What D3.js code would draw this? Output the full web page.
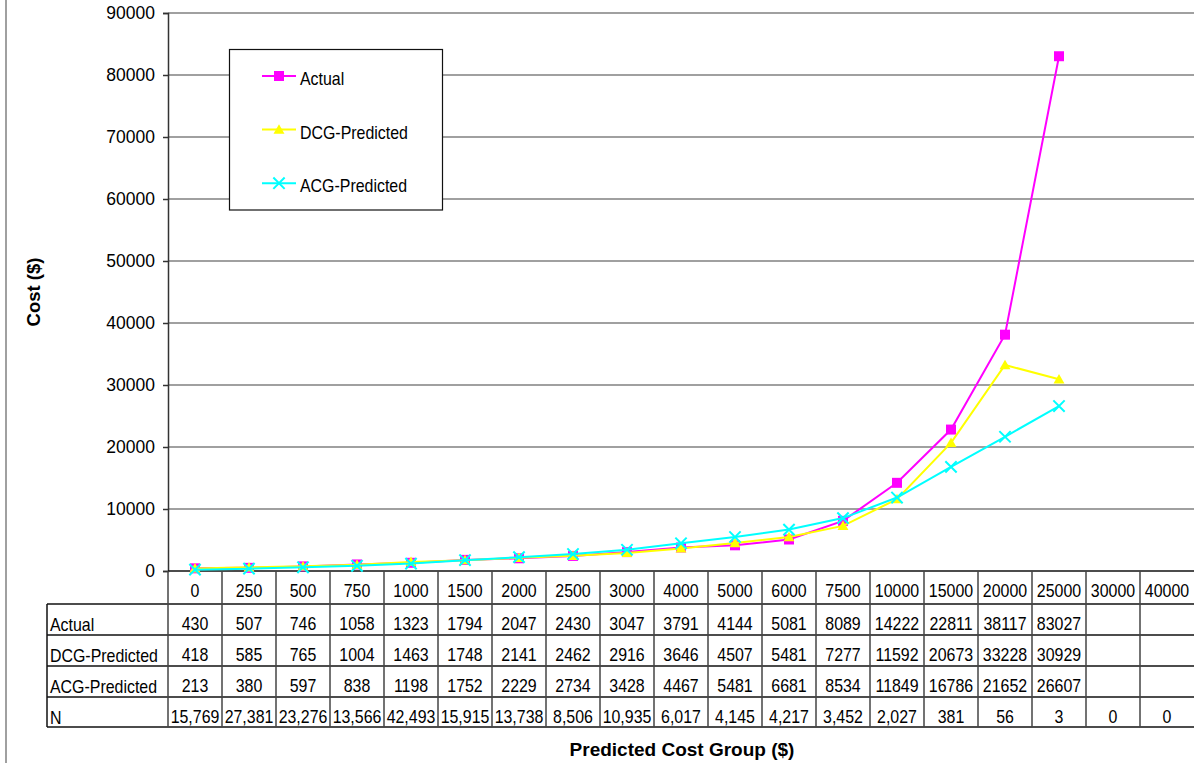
<!DOCTYPE html>
<html>
<head>
<meta charset="utf-8">
<script src="https://cdn.jsdelivr.net/npm/d3@7"></script>
<style>
  html, body { margin: 0; padding: 0; background: #fff; }
  svg { display: block; font-family: "Liberation Sans", Arial, sans-serif; }
</style>
</head>
<body>
<svg id="chart" width="1194" height="763"></svg>
<script>
// Cost by predicted cost group
const categories = ["0","250","500","750","1000","1500","2000","2500","3000","4000","5000","6000","7500","10000","15000","20000","25000","30000","40000"];
const actual = [430,507,746,1058,1323,1794,2047,2430,3047,3791,4144,5081,8089,14222,22811,38117,83027,null,null];
const dcgPredicted = [418,585,765,1004,1463,1748,2141,2462,2916,3646,4507,5481,7277,11592,20673,33228,30929,null,null];
const acgPredicted = [213,380,597,838,1198,1752,2229,2734,3428,4467,5481,6681,8534,11849,16786,21652,26607,null,null];
const counts = [15769,27381,23276,13566,42493,15915,13738,8506,10935,6017,4145,4217,3452,2027,381,56,3,0,0];
const yTicks = [0,10000,20000,30000,40000,50000,60000,70000,80000,90000];

const series = [
  { name: "Actual", values: actual, color: "#ff00ff", symbol: "square" },
  { name: "DCG-Predicted", values: dcgPredicted, color: "#ffff00", symbol: "triangle" },
  { name: "ACG-Predicted", values: acgPredicted, color: "#00ffff", symbol: "cross" }
];

const svg = d3.select("#chart");
const plot = { left: 168, right: 1194, top: 13, bottom: 571 };

const x = d3.scaleBand().domain(categories).range([plot.left, plot.right]).padding(0);
const y = d3.scaleLinear().domain([0, 90000]).range([plot.bottom, plot.top]);
const cx = c => x(c) + x.bandwidth() / 2;

// slightly condensed label text, anchored at (px, py)
const TEXT_SIZE = 17.5;
const SQUEEZE = 0.91;
function label(g, px, py, str, anchor) {
  return g.append("text")
    .attr("transform", `translate(${px},${py}) scale(${SQUEEZE},1)`)
    .attr("text-anchor", anchor || "middle")
    .attr("font-size", TEXT_SIZE)
    .attr("fill", "#000")
    .text(str);
}

// outer frame edge on the left
svg.append("line").attr("x1", 6).attr("x2", 6).attr("y1", 0).attr("y2", 763)
  .attr("stroke", "#808080").attr("stroke-width", 1.5);

// horizontal gridlines
svg.append("g").selectAll("line").data(yTicks.filter(d => d > 0)).join("line")
  .attr("x1", plot.left).attr("x2", plot.right)
  .attr("y1", d => y(d)).attr("y2", d => y(d))
  .attr("stroke", "#808080").attr("stroke-width", 1.6);

// y axis
const yAxis = svg.append("g").attr("transform", `translate(${plot.left},0)`)
  .call(d3.axisLeft(y).tickValues(yTicks).tickSize(5).tickPadding(8).tickFormat(d3.format("d")));
yAxis.select(".domain").attr("stroke", "#333").attr("stroke-width", 1.5);
yAxis.selectAll(".tick line").attr("stroke", "#333").attr("stroke-width", 1.5);
yAxis.selectAll(".tick text").attr("font-size", 17.5).attr("fill", "#000")
  .attr("font-family", "Liberation Sans, Arial, sans-serif");

// y axis title
svg.append("text").attr("transform", "translate(40,292) rotate(-90)")
  .attr("text-anchor", "middle").attr("font-weight", "bold").attr("font-size", 18.5)
  .text("Cost ($)");

// data table under the plot
const rowTop = [571, 604, 635, 666, 697, 727];
const rowLabels = ["Actual", "DCG-Predicted", "ACG-Predicted", "N"];
const tableLeft = 47;
const table = svg.append("g");

// horizontal rules
table.selectAll("line.h").data(rowTop).join("line").attr("class", "h")
  .attr("x1", (d, i) => i === 0 ? plot.left : tableLeft)
  .attr("x2", plot.right)
  .attr("y1", d => d).attr("y2", d => d)
  .attr("stroke", "#111").attr("stroke-width", 1.5);

// vertical rules between categories
table.selectAll("line.v").data(categories).join("line").attr("class", "v")
  .attr("x1", d => x(d)).attr("x2", d => x(d))
  .attr("y1", rowTop[0]).attr("y2", rowTop[5])
  .attr("stroke", "#444").attr("stroke-width", 1.5);
table.append("line").attr("x1", tableLeft).attr("x2", tableLeft)
  .attr("y1", rowTop[1]).attr("y2", rowTop[5])
  .attr("stroke", "#111").attr("stroke-width", 1.5);

// category labels
categories.forEach(c => label(table, cx(c), 597, c));

// row labels
rowLabels.forEach((d, i) => label(table, 50, rowTop[i + 1] + 27, d, "start"));

// row values
const rowValues = [actual, dcgPredicted, acgPredicted, counts];
rowValues.forEach((vals, r) => {
  categories.forEach((c, i) => {
    if (vals[i] == null) return;
    const str = r === 3 ? d3.format(",")(vals[i]) : String(vals[i]);
    label(table, cx(c), rowTop[r + 1] + 25.5, str);
  });
});

// series lines and markers
const line = d3.line().defined(d => d.v != null).x(d => cx(d.c)).y(d => y(d.v));
const symbolFor = { square: d3.symbolSquare, triangle: d3.symbolTriangle, cross: d3.symbolX };

function drawMarker(g, s, px, py) {
  if (s.symbol === "cross") {
    g.append("path").attr("transform", `translate(${px},${py})`)
      .attr("d", d3.symbol(symbolFor.cross, 85)())
      .attr("fill", "none").attr("stroke", s.color).attr("stroke-width", 2);
  } else if (s.symbol === "square") {
    g.append("path").attr("transform", `translate(${px},${py})`)
      .attr("d", d3.symbol(symbolFor.square, 100)()).attr("fill", s.color);
  } else {
    g.append("path").attr("transform", `translate(${px},${py + 1})`)
      .attr("d", d3.symbol(symbolFor.triangle, 52)()).attr("fill", s.color);
  }
}

series.forEach(s => {
  const pts = categories.map((c, i) => ({ c, v: s.values[i] }));
  const g = svg.append("g");
  g.append("path").datum(pts).attr("d", line)
    .attr("fill", "none").attr("stroke", s.color).attr("stroke-width", 2);
  pts.filter(p => p.v != null).forEach(p => drawMarker(g, s, cx(p.c), y(p.v)));
});

// legend
const legend = svg.append("g");
legend.append("rect").attr("x", 229.5).attr("y", 49.5).attr("width", 213).attr("height", 160.5)
  .attr("fill", "#fff").attr("stroke", "#111").attr("stroke-width", 1.2);
series.forEach((s, i) => {
  const ly = 76 + i * 53.6;
  legend.append("line").attr("x1", 262).attr("x2", 296).attr("y1", ly).attr("y2", ly)
    .attr("stroke", s.color).attr("stroke-width", 2);
  drawMarker(legend, s, 279, ly);
  label(legend, 300, ly + 9, s.name, "start");
});

// x axis title
svg.append("text").attr("x", 682).attr("y", 756).attr("text-anchor", "middle")
  .attr("font-weight", "bold").attr("font-size", 19).text("Predicted Cost Group ($)");
</script>
</body>
</html>
